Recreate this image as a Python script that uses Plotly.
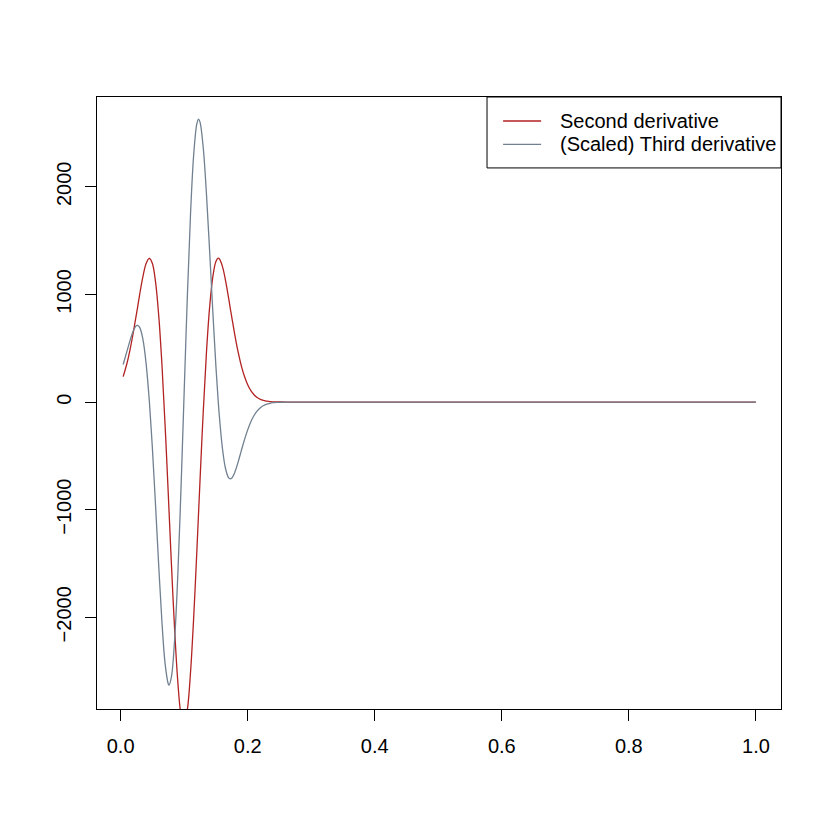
import plotly.graph_objects as go

# ----------------------
# Data
# ----------------------
x_vals = [
    0.004, 0.010, 0.015, 0.020, 0.025, 0.0265, 0.030, 0.035, 0.040, 0.045,
    0.0453, 0.050, 0.055, 0.060, 0.065, 0.070, 0.075, 0.0763, 0.080, 0.085,
    0.090, 0.095, 0.0995, 0.100, 0.105, 0.110, 0.115, 0.120, 0.1227, 0.125,
    0.130, 0.135, 0.140, 0.145, 0.150, 0.1537, 0.155, 0.160, 0.165, 0.170,
    0.1725, 0.175, 0.180, 0.185, 0.190, 0.195, 0.200, 0.205, 0.210, 0.215,
    0.220, 0.225, 0.230, 0.235, 0.240, 0.245, 0.250, 0.260, 0.300, 0.400,
    0.500, 0.600, 0.700, 0.800, 0.900, 1.000,
]

second_deriv = [
    237, 361, 493, 649, 823, 874, 1001, 1164, 1286, 1337,
    1337, 1288, 1114, 801, 351, -215, -854, -1026, -1510, -2114,
    -2598, -2904, -2996, -2995, -2859, -2513, -2000, -1381, -1026, -723,
    -94, 451, 875, 1159, 1307, 1337, 1334, 1266, 1134, 966,
    874, 787, 616, 464, 337, 237, 161, 106, 68, 42,
    25, 15, 8, 5, 2, 1, 1, 0, 0, 0,
    0, 0, 0, 0, 0, 0,
]

third_deriv_scaled = [
    349, 473, 576, 663, 711, 713, 694, 585, 365, 23,
    0, -430, -964, -1525, -2041, -2431, -2619, -2630, -2552, -2207,
    -1605, -807, 0, 91, 978, 1743, 2298, 2587, 2630, 2601,
    2366, 1945, 1414, 853, 332, 0, -101, -418, -615, -704,
    -713, -706, -648, -556, -451, -349, -258, -183, -125, -82,
    -52, -32, -19, -11, -6, -3, -2, 0, 0, 0,
    0, 0, 0, 0, 0, 0,
]

series_names = ["Second derivative", "(Scaled) Third derivative"]
series_colors = ["#B22222", "#708090"]

x_ticks = [0.0, 0.2, 0.4, 0.6, 0.8, 1.0]
y_ticks = [-2000, -1000, 0, 1000, 2000]

FONT = "Liberation Sans, Arial, Helvetica, sans-serif"

fig = go.Figure()

for name, color, values in zip(
    series_names, series_colors, [second_deriv, third_deriv_scaled]
):
    fig.add_trace(
        go.Scatter(
            x=x_vals,
            y=values,
            mode="lines",
            name=name,
            showlegend=False,
            line=dict(color=color, width=1.3, shape="spline", smoothing=1),
        )
    )

# ----------------------
# R-style legend box in the top right corner (paper coordinates)
# ----------------------
shapes = [
    dict(
        type="rect", xref="paper", yref="paper",
        x0=0.5702, x1=1.0, y0=0.8841, y1=1.0,
        line=dict(color="black", width=1), fillcolor="white", layer="above",
    )
]
annotations = []
legend_rows = [0.9608, 0.9225]
for name, color, yrow in zip(series_names, series_colors, legend_rows):
    shapes.append(
        dict(
            type="line", xref="paper", yref="paper",
            x0=0.5937, x1=0.6493, y0=yrow, y1=yrow,
            line=dict(color=color, width=1.3), layer="above",
        )
    )
    annotations.append(
        dict(
            text=name, xref="paper", yref="paper",
            x=0.6741, y=yrow, xanchor="left", yanchor="middle",
            showarrow=False, font=dict(family=FONT, size=20, color="black"),
        )
    )

# the page body adds an 8px offset, so the figure is 822 wide / tall
fig.update_layout(
    width=822,
    height=822,
    paper_bgcolor="white",
    plot_bgcolor="white",
    font=dict(family=FONT, size=20, color="black"),
    margin=dict(l=89, r=49, t=89, b=121),  # R default margins
    showlegend=False,
    shapes=shapes,
    annotations=annotations,
    xaxis=dict(
        range=[-0.0372, 1.0395],
        tickvals=x_ticks,
        tickformat=".1f",
        ticks="outside",
        ticklen=11,
        tickwidth=1,
        tickcolor="black",
        showgrid=False,
        zeroline=False,
        showline=True,
        linecolor="black",
        linewidth=1,
        mirror=True,
        ticklabelstandoff=8,
    ),
    yaxis=dict(
        range=[-2852, 2835],
        tickvals=y_ticks,
        ticks="outside",
        ticklen=11,
        tickwidth=1,
        tickcolor="black",
        tickangle=-90,
        showgrid=False,
        zeroline=False,
        showline=True,
        linecolor="black",
        linewidth=1,
        mirror=True,
        ticklabelstandoff=6,
    ),
)

fig.write_html("out.html")
